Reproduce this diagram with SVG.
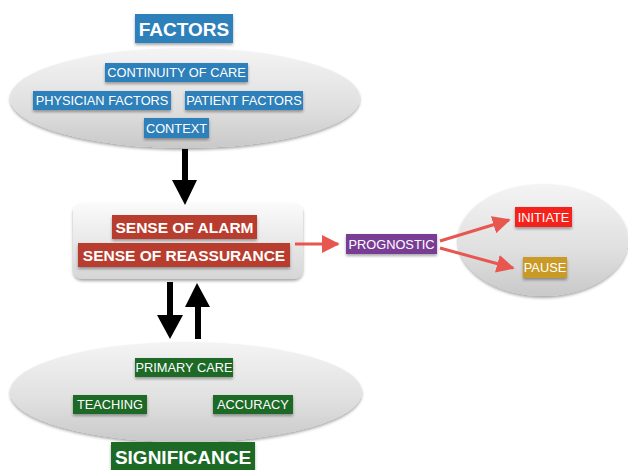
<svg xmlns="http://www.w3.org/2000/svg" width="628" height="470" viewBox="0 0 628 470">
<defs>
<linearGradient id="ellG" x1="0" y1="0" x2="0" y2="1">
<stop offset="0" stop-color="#f4f4f4"/>
<stop offset="0.6" stop-color="#dfdfdf"/>
<stop offset="1" stop-color="#c9c9c9"/>
</linearGradient>
<linearGradient id="rectG" x1="0" y1="0" x2="0" y2="1">
<stop offset="0" stop-color="#fbfbfb"/>
<stop offset="1" stop-color="#d6d6d6"/>
</linearGradient>
<filter id="sh" x="-10%" y="-10%" width="120%" height="130%">
<feGaussianBlur in="SourceAlpha" stdDeviation="1.5"/>
<feOffset dy="1.5"/>
<feComponentTransfer><feFuncA type="linear" slope="0.35"/></feComponentTransfer>
<feMerge><feMergeNode/><feMergeNode in="SourceGraphic"/></feMerge>
</filter>
<marker id="rh" viewBox="0 0 10 10" refX="9" refY="5" markerWidth="6" markerHeight="6" orient="auto" markerUnits="strokeWidth">
<path d="M0,0 L10,5 L0,10 Z" fill="#e8574f"/>
</marker>
</defs>
<style>
.ell{fill:url(#ellG);filter:url(#sh)}
.b{filter:url(#sh)}
.t{font-family:"Liberation Sans",Arial,sans-serif;font-size:12.8px;fill:#ffffff;text-anchor:middle}
.tb{font-family:"Liberation Sans",Arial,sans-serif;font-weight:bold;fill:#ffffff;text-anchor:middle}
.blue{fill:#2f80ba}
.red{fill:#b83c2e}
.green{fill:#1b6b27}
.red-line{stroke:#e8574f;stroke-width:3;fill:none;marker-end:url(#rh)}
</style>
<rect width="628" height="470" fill="#ffffff"/>

<g id="factors-group">
<ellipse class="ell" cx="185" cy="98" rx="175" ry="50"/>
</g>
<g id="factors">
<rect class="blue b" x="135" y="14" width="98" height="29"/>
<text class="tb" x="184" y="35.5" font-size="19">FACTORS</text>
</g>
<g id="continuity">
<rect class="blue b" x="105" y="63" width="143" height="19"/>
<text class="t" x="176.5" y="77">CONTINUITY OF CARE</text>
</g>
<g id="physician">
<rect class="blue b" x="33" y="91" width="138" height="19"/>
<text class="t" x="102" y="105">PHYSICIAN FACTORS</text>
</g>
<g id="patient">
<rect class="blue b" x="185" y="91" width="118" height="19"/>
<text class="t" x="244" y="105">PATIENT FACTORS</text>
</g>
<g id="context">
<rect class="blue b" x="144" y="118" width="65" height="20"/>
<text class="t" x="176.5" y="132.5">CONTEXT</text>
</g>

<g id="sense">
<rect class="b" x="73" y="203" width="230" height="76" rx="9" fill="url(#rectG)"/>
</g>
<g id="alarm">
<rect class="red b" x="112" y="215" width="145" height="24"/>
<text class="tb" x="184.5" y="232.5" font-size="15.5">SENSE OF ALARM</text>
</g>
<g id="reassurance">
<rect class="red b" x="78" y="243" width="212" height="24"/>
<text class="tb" x="184" y="260.5" font-size="15.5">SENSE OF REASSURANCE</text>
</g>

<g id="prognostic">
<rect class="b" x="346" y="234" width="91" height="20" fill="#7a3d96"/>
<text class="t" x="391.5" y="248.5">PROGNOSTIC</text>
</g>

<g id="outcome-group">
<ellipse class="ell" cx="543" cy="240" rx="85" ry="56"/>
</g>
<g id="initiate">
<rect class="b" x="515" y="207" width="57" height="20" fill="#f5231b"/>
<text class="t" x="543.5" y="221.5">INITIATE</text>
</g>
<g id="pause">
<rect class="b" x="523" y="257" width="44" height="21" fill="#c99a28"/>
<text class="t" x="545" y="272">PAUSE</text>
</g>

<g id="significance-group">
<ellipse class="ell" cx="186" cy="392" rx="176" ry="50"/>
</g>
<g id="primary">
<rect class="green b" x="135" y="358" width="98" height="19"/>
<text class="t" x="184" y="372">PRIMARY CARE</text>
</g>
<g id="teaching">
<rect class="green b" x="73" y="395" width="74" height="19"/>
<text class="t" x="110" y="409">TEACHING</text>
</g>
<g id="accuracy">
<rect class="green b" x="213" y="395" width="80" height="19"/>
<text class="t" x="253" y="409">ACCURACY</text>
</g>
<g id="significance">
<rect class="green b" x="111" y="442" width="144" height="30"/>
<text class="tb" x="183" y="464" font-size="19">SIGNIFICANCE</text>
</g>

<g id="connectors">
<path d="M182,149 L188,149 L188,180 L197,180 L185,205 L172,180 L182,180 Z" fill="#000"/>
<path d="M167,282 L173,282 L173,315 L183,315 L170,339 L157,315 L167,315 Z" fill="#000"/>
<path d="M195,339 L201,339 L201,307 L210,307 L197,283 L185,307 L195,307 Z" fill="#000"/>
<line class="red-line" x1="295" y1="244" x2="338" y2="244"/>
<line class="red-line" x1="440" y1="241" x2="509" y2="220"/>
<line class="red-line" x1="440" y1="248" x2="513" y2="268"/>
</g>
</svg>
